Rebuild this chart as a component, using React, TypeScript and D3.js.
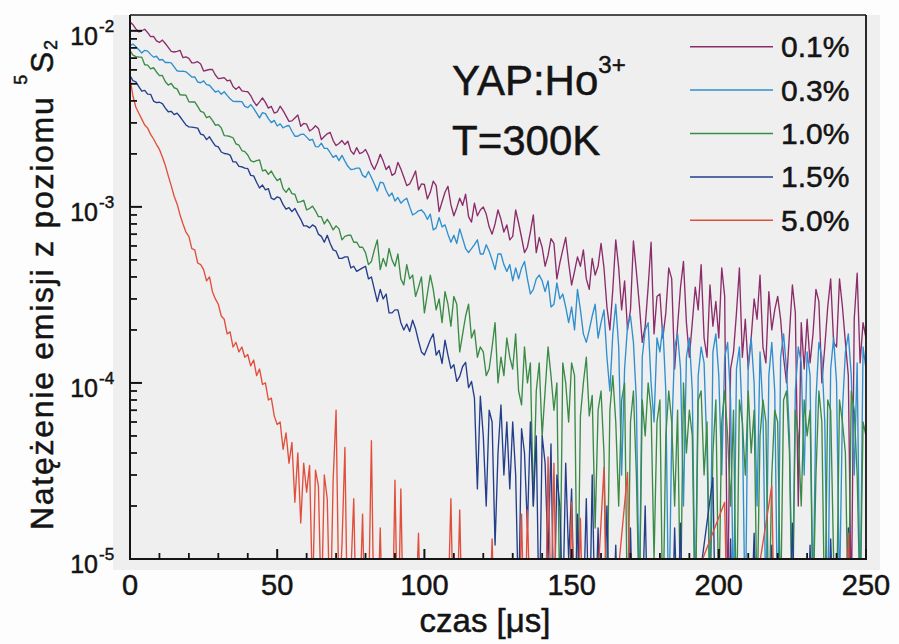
import React from "react";
import * as d3 from "d3";

// ---------------- data (intensity in units of 1e-5, sampled every 1 µs from t = 0 µs) ----------------
const UNIT = 1e-5;
const TIME_STEP_US = 1;
const PRE_TRIGGER = 0.01; // level just before the excitation pulse (below the axis)
// 0 marks a non-positive reading (not plotted on the log axis)

const conc01 = [
  1127, 1083, 1026, 986, 1001, 1021, 977, 927, 929, 876,
  859, 886, 847, 806, 765, 758, 765, 775, 704, 711,
  698, 658, 659, 668, 648, 591, 597, 603, 603, 561,
  535, 538, 542, 520, 525, 483, 465, 482, 456, 453,
  451, 429, 397, 376, 395, 416, 392, 364, 372, 341,
  346, 373, 352, 329, 306, 308, 320, 333, 287, 298,
  295, 270, 277, 289, 279, 241, 251, 260, 265, 238,
  223, 229, 238, 226, 236, 208, 199, 217, 201, 204,
  212, 196, 175, 163, 178, 199, 182, 163, 171, 151,
  155, 179, 164, 148, 132, 135, 146, 160, 125, 135,
  134, 111, 121, 140, 132, 94, 107, 121, 131, 103,
  89, 99, 112, 102, 118, 88, 82, 105, 89, 96,
  100, 91, 77, 70, 80, 96, 85, 72, 79, 65,
  68, 96, 81, 67, 55, 59, 72, 90, 55, 67,
  59, 46, 53, 66, 62, 39, 48, 57, 67, 48,
  36, 43, 52, 46, 57, 39, 34, 51, 41, 46,
  62, 45, 27, 20, 34, 65, 45, 26, 38, 20,
  26, 64, 43, 28, 17, 21, 35, 63, 19, 31,
  32, 18, 25, 45, 39, 12, 21, 35, 49, 22,
  14, 22, 35, 26, 47, 18, 14, 36, 21, 29,
  18, 45, 31, 0.5, 12, 15, 25, 45, 14, 23,
  12, 18, 30, 23, 41, 16, 13, 33, 20, 26,
  31, 23, 14, 10, 19, 36, 25, 2, 22, 12,
  23, 13, 19, 34, 29, 10, 16, 27, 39, 17,
  16, 39, 27, 17, 11, 0.5, 23, 42, 13, 22,
  18,
];

const conc03 = [
  824, 841, 813, 781, 749, 775, 767, 735, 709, 717,
  683, 687, 661, 662, 658, 624, 593, 589, 590, 585,
  566, 546, 548, 512, 507, 520, 495, 491, 469, 449,
  456, 436, 451, 430, 411, 398, 397, 397, 396, 372,
  366, 381, 363, 341, 320, 343, 339, 317, 301, 310,
  288, 296, 281, 287, 290, 269, 252, 252, 258, 259,
  249, 239, 242, 220, 219, 230, 215, 215, 203, 191,
  196, 183, 196, 182, 170, 163, 164, 166, 166, 151,
  147, 159, 147, 135, 123, 138, 137, 124, 115, 120,
  108, 113, 105, 109, 112, 100, 90, 92, 95, 96,
  92, 85, 91, 74, 76, 87, 77, 79, 70, 63,
  69, 62, 75, 66, 58, 55, 58, 61, 65, 54,
  54, 61, 56, 50, 44, 54, 54, 47, 43, 47,
  38, 45, 39, 45, 49, 39, 32, 34, 39, 41,
  38, 33, 38, 27, 28, 37, 30, 32, 27, 22,
  27, 20, 34, 26, 19, 17, 20, 24, 28, 18,
  22, 26, 14, 9, 19, 28, 16, 3, 12, 21,
  24, 17, 8, 0.5, 14, 20, 22, 10, 6, 18,
  15, 21, 9, 0.4, 5, 16, 19, 12, 2, 14,
  18, 9, 0.5, 11, 16, 13, 4, 0.6, 15, 19,
  11, 3, 14, 17, 8, 0.5, 12, 16, 6, 0.4,
  13, 18, 10, 2, 15, 7, 0.5, 11, 17, 9,
  0.4, 14, 19, 12, 5, 0.5, 9, 16, 13, 3,
  15, 11, 0.5, 8, 17, 14, 6, 0.4, 12, 18,
  10, 0.6, 7, 15, 19, 11, 3, 13, 0.5, 16,
  12,
];

const conc10 = [
  772, 727, 713, 710, 709, 642, 639, 608, 617, 584,
  557, 558, 514, 492, 503, 475, 468, 433, 432, 431,
  395, 394, 395, 372, 349, 344, 321, 327, 310, 291,
  293, 281, 254, 253, 251, 247, 228, 224, 209, 206,
  197, 183, 180, 183, 185, 160, 162, 153, 160, 149,
  141, 145, 127, 121, 128, 119, 118, 106, 107, 109,
  96, 98, 101, 95, 88, 88, 80, 85, 80, 74,
  78, 75, 65, 68, 69, 69, 63, 63, 59, 59,
  55, 47, 49, 57, 65, 44, 51, 46, 58, 50,
  46, 54, 39, 36, 47, 39, 41, 31, 35, 40,
  25, 32, 41, 34, 26, 30, 22, 33, 28, 21,
  31, 28, 15, 19, 24, 28, 18, 20, 14, 16,
  15, 11, 12, 16, 22, 10, 14, 11, 18, 14,
  12, 19, 9, 7.5, 16, 10, 13, 2, 9, 13,
  5, 9, 16, 11, 7, 10, 0.5, 13, 10, 6,
  13, 11, 0.4, 6.5, 10, 14, 6.5, 8.5, 1.5, 7,
  9, 4, 0.5, 7, 11, 6, 2, 8, 10, 0.4,
  6, 9, 3, 0.5, 8, 5, 10, 7, 1, 6,
  8, 0.4, 5, 9, 6, 2, 7, 0.5, 10, 4,
  7, 5, 0.4, 8, 9, 3, 6, 0.5, 4, 8,
  0.5, 6, 9, 5, 2, 7, 0.4, 8, 6, 3,
  9, 4, 7, 0.5, 5, 8, 6, 0.4, 3, 7,
  6, 0.5, 8, 9, 4, 0.4, 7, 5, 2, 8,
  5, 7, 0.5, 3, 9, 6, 0.4, 8, 7, 1,
  0.5, 8, 6, 4, 0.4, 9, 7, 3, 0.5, 6,
  5,
];

const conc15 = [
  557, 521, 513, 482, 454, 459, 437, 436, 399, 391,
  393, 386, 364, 347, 349, 334, 341, 325, 308, 292,
  285, 284, 282, 280, 259, 256, 241, 250, 235, 222,
  219, 205, 201, 200, 197, 180, 180, 170, 169, 166,
  165, 151, 150, 138, 128, 133, 125, 127, 112, 110,
  114, 112, 103, 97, 99, 94, 98, 91, 85, 78,
  78, 76, 79, 77, 70, 68, 63, 69, 62, 57,
  56, 51, 51, 52, 52, 45, 46, 43, 44, 45,
  46, 39, 40, 34, 29, 34, 30, 32, 25, 25,
  26, 26, 22, 20, 21.6, 19.6, 22.7, 20.3, 17.3, 15,
  14.4, 15.9, 17.6, 19, 14.4, 15.3, 12.9, 17.5, 14.4, 12.1,
  12.7, 10.2, 10.9, 12.4, 13.1, 9.4, 10.2, 8.2, 2.5, 8.4,
  5, 2, 7, 6, 1.2, 4, 7.5, 3, 6, 2.5,
  6, 3, 0.5, 5.5, 4, 1.5, 6, 2, 5, 0.4,
  5, 3.5, 1, 4.5, 0.4, 3, 2, 0.5, 3.5, 1,
  2.5, 0.4, 1.8, 0.3, 0.5, 2.2, 0.3, 3, 0.4, 1.5,
  0.3, 0.5, 2, 0.3, 0.4, 1.2, 0.3, 0.3, 0.6, 0.3,
  1.5, 0.3, 0.4, 0.3, 0.5, 2, 0.3, 0.4, 0.3, 0.6,
  0.3, 0.4, 0.3, 0.5, 0.3, 1.5, 0.4, 1.6, 0.3, 0.4,
  0.3, 0.5, 0.3, 0.4, 0.9, 0, 0, 0, 2.9, 0.3,
  0.4, 0.3, 0.5, 0.3, 1.3, 0.3, 0.4, 0.3, 0.5, 0.3,
  0.3, 0.4, 1.4, 0.3, 0.5, 0.3, 0.4, 0.3, 1.2, 0.3,
  0.4, 0.3, 0.5, 0.3, 0.3, 1.6, 0.4, 0.3, 0.5, 0.3,
  0.3, 1.2, 0.3, 0.4, 0.3, 0.5, 0.3, 0.3, 1.3, 0.4,
  0.3, 0.5, 0.3, 0.4, 1.5, 0.3, 0.4, 0.3, 0.5, 0.3,
  0.4,
];

const conc50 = [
  540, 425, 368, 340, 315, 292, 280, 258, 243, 226,
  212, 192, 172, 150, 132, 115, 104, 90, 80, 72,
  68, 58, 57, 48, 47, 44, 38, 40, 33, 30,
  28, 24, 23, 19, 19.5, 16, 17, 15, 16, 14,
  14.5, 12.5, 13.5, 11, 12, 9.8, 10, 8, 8.2, 6.5,
  5.8, 6, 4.2, 5.2, 3.5, 4.6, 2.1, 4, 1.6, 3.5,
  2.4, 3.4, 0.6, 3.2, 2.6, 0.5, 3.0, 2.2, 0.4, 2.8,
  7, 0.5, 1.2, 4.3, 0.3, 0.8, 2.2, 0.3, 0.5, 1.8,
  0.3, 0.5, 4.7, 0.3, 0.4, 1.5, 0.3, 0.3, 0.5, 0.3,
  2.8, 0.3, 2.5, 0.3, 0.4, 0.3, 0.3, 0.5, 1.4, 0.3,
  0.4, 0.3, 0.3, 0.5, 0.3, 0.4, 0.3, 0.3, 0.5, 2.2,
  0.3, 0.4, 1.9, 0.3, 0.5, 0.3, 0.3, 0.4, 0.3, 0.3,
  0.5, 0.3, 0.4, 1.3, 0.3, 0.3, 0.5, 0.3, 0.4, 0.3,
  0.3, 0.5, 0.3, 1.8, 0.3, 1.9, 0.4, 0.3, 0.5, 0.3,
  0.4, 0.3, 3.8, 0.5, 3.5, 0.3, 0.4, 0.3, 0.5, 0.3,
  2.1, 0.3, 0.4, 1.7, 0.3, 0.5, 0.3, 0.4, 0.3, 0.8,
  0, 3.3, 0.3, 0.4, 0.3, 0.5, 0.9, 0, 0, 3.1,
  0.3, 0.4, 0.3, 0.5, 0.3, 0.3, 0.4, 0.3, 0.5, 0.3,
  0.4, 0.3, 0.3, 0.5, 0.3, 0.4, 0.3, 0.3, 0.5, 0.3,
  0.3, 0.4, 0.3, 0.5, 0.95, 0, 0, 0, 0, 0,
  0, 0, 2.1, 0.3, 0.4, 0.3, 0.5, 0.3, 0.3, 0.4,
  0.3, 0.5, 0.3, 0.4, 0.97, 0, 0, 0, 2.6, 0.3,
  0.4, 0.3, 0.5, 0.3, 0.3, 0.4, 0.3, 0.5, 0.3, 0.3,
  0.4, 0.3, 0.5, 0.3, 0.3, 0.4, 0.3, 0.5, 0.3, 0.3,
  0.4, 0.3, 0.5, 0.3, 1.4, 0.3, 0.4, 0.3, 0.5, 0.3,
  0.3,
];

const SERIES_LABELS = ["0.1%", "0.3%", "1.0%", "1.5%", "5.0%"];
const SERIES_COLORS = ["#8b2d6b", "#2f8fcf", "#3a8b46", "#233e8b", "#e14e3c"];

const X_DOMAIN: [number, number] = [0, 250];
const X_MAJOR_TICKS = [0, 50, 100, 150, 200, 250];
const X_MINOR_STEP = 10;
const Y_DOMAIN: [number, number] = [1e-5, 0.0123];
const Y_DECADES = [-5, -4, -3, -2];

const X_TITLE = "czas [μs]";
const Y_TITLE = "Natężenie emisji z poziomu ";
const ANNOT_1 = "YAP:Ho";
const ANNOT_1_SUP = "3+";
const ANNOT_2 = "T=300K";

// ---------------- layout ----------------
const W = 899;
const H = 644;
const PL = 130;
const PR = 866;
const PT = 15;
const PB = 559;
const FONT = "'Liberation Sans', Arial, Helvetica, sans-serif";
const INK = "#141414";

export default function App() {
  const x = d3.scaleLinear().domain(X_DOMAIN).range([PL, PR]);
  const y = d3.scaleLog().domain(Y_DOMAIN).range([PB, PT]);

  const series = [conc01, conc03, conc10, conc15, conc50];
  const line = d3
    .line<[number, number]>()
    .x((d) => x(d[0]))
    .y((d) => y(d[1] * UNIT));

  const paths = series.map((vals) => {
    const pts: [number, number][] = [[0, PRE_TRIGGER]];
    vals.forEach((v, i) => {
      if (v > 0) pts.push([i * TIME_STEP_US, v]);
    });
    return line(pts) || "";
  });

  const xMinor = d3
    .range(X_DOMAIN[0], X_DOMAIN[1] + 0.001, X_MINOR_STEP)
    .filter((t) => !X_MAJOR_TICKS.includes(t));
  const yMinor: number[] = [];
  Y_DECADES.forEach((e) => {
    for (let m = 2; m <= 9; m++) {
      const v = m * Math.pow(10, e);
      if (v < Y_DOMAIN[1]) yMinor.push(v);
    }
  });

  const textStroke = { stroke: INK, strokeWidth: 0.5 };

  return (
    <svg
      width={W}
      height={H}
      style={{ position: "absolute", left: 0, top: 0, display: "block", background: "#fdfdfd" }}
      fontFamily={FONT}
    >
      <defs>
        <clipPath id="plotClip">
          <rect x={PL} y={PT} width={PR - PL} height={PB - PT} />
        </clipPath>
      </defs>
      <rect x={0} y={0} width={W} height={H} fill="#fdfdfd" />
      <rect x={113} y={PT} width={767} height={555} fill="#efefef" />

      <g clipPath="url(#plotClip)" fill="none" strokeWidth={1.35} strokeLinejoin="round">
        {paths.map((p, i) => (
          <path key={i} d={p} stroke={SERIES_COLORS[i]} />
        ))}
      </g>

      {/* frame */}
      <line x1={PL} x2={PR} y1={PT} y2={PT} stroke={INK} strokeWidth={1.6} />
      <line x1={PR} x2={PR} y1={PT} y2={PB} stroke={INK} strokeWidth={1.8} />
      <line x1={PL} x2={PL} y1={PT} y2={PB + 1} stroke={INK} strokeWidth={2} />
      <line x1={PL - 1} x2={PR + 1} y1={PB} y2={PB} stroke={INK} strokeWidth={2} />

      {/* x ticks */}
      {X_MAJOR_TICKS.map((t) => (
        <g key={"xm" + t}>
          <line x1={x(t)} x2={x(t)} y1={PB} y2={PB - 10} stroke={INK} strokeWidth={2} />
          <text x={x(t)} y={595} fontSize={29} textAnchor="middle" fill={INK} {...textStroke}>
            {t}
          </text>
        </g>
      ))}
      {xMinor.map((t) => (
        <line key={"xn" + t} x1={x(t)} x2={x(t)} y1={PB} y2={PB - 6} stroke={INK} strokeWidth={1.8} />
      ))}

      {/* y ticks */}
      {Y_DECADES.map((e) => {
        const yy = y(Math.pow(10, e));
        return (
          <g key={"ym" + e}>
            <line x1={PL} x2={PL + 12} y1={yy} y2={yy} stroke={INK} strokeWidth={2} />
            <text x={98} y={yy + 14} fontSize={25} textAnchor="end" fill={INK} {...textStroke}>
              10
            </text>
            <text x={99} y={yy + 1} fontSize={17} textAnchor="start" fill={INK} {...textStroke}>
              {"-" + Math.abs(e)}
            </text>
          </g>
        );
      })}
      {yMinor.map((v, i) => (
        <line key={"yn" + i} x1={PL} x2={PL + 7} y1={y(v)} y2={y(v)} stroke={INK} strokeWidth={1.8} />
      ))}

      {/* axis titles */}
      <text x={485} y={632} fontSize={33} textAnchor="middle" fill={INK} {...textStroke}>
        {X_TITLE}
      </text>
      <text
        transform="translate(53,285) rotate(-90)"
        fontSize={32}
        textAnchor="middle"
        fill={INK}
        {...textStroke}
        textLength={490}
        lengthAdjust="spacing"
      >
        {Y_TITLE}
        <tspan fontSize={18} dy={-26}>5</tspan>
        <tspan fontSize={32} dy={26}>S</tspan>
        <tspan fontSize={18} dy={4}>2</tspan>
      </text>

      {/* annotation */}
      <text x={452} y={95} fontSize={42} fill={INK} {...textStroke}>
        {ANNOT_1}
        <tspan fontSize={24} dy={-22}>{ANNOT_1_SUP}</tspan>
      </text>
      <text x={452} y={155} fontSize={42} fill={INK} {...textStroke}>
        {ANNOT_2}
      </text>

      {/* legend */}
      {SERIES_LABELS.map((lab, i) => {
        const ly = 46.7 + i * 43.4;
        return (
          <g key={lab}>
            <line x1={690} x2={773} y1={ly} y2={ly} stroke={SERIES_COLORS[i]} strokeWidth={1.5} />
            <text x={781} y={ly + 10.5} fontSize={30} fill={INK} {...textStroke}>
              {lab}
            </text>
          </g>
        );
      })}
    </svg>
  );
}
